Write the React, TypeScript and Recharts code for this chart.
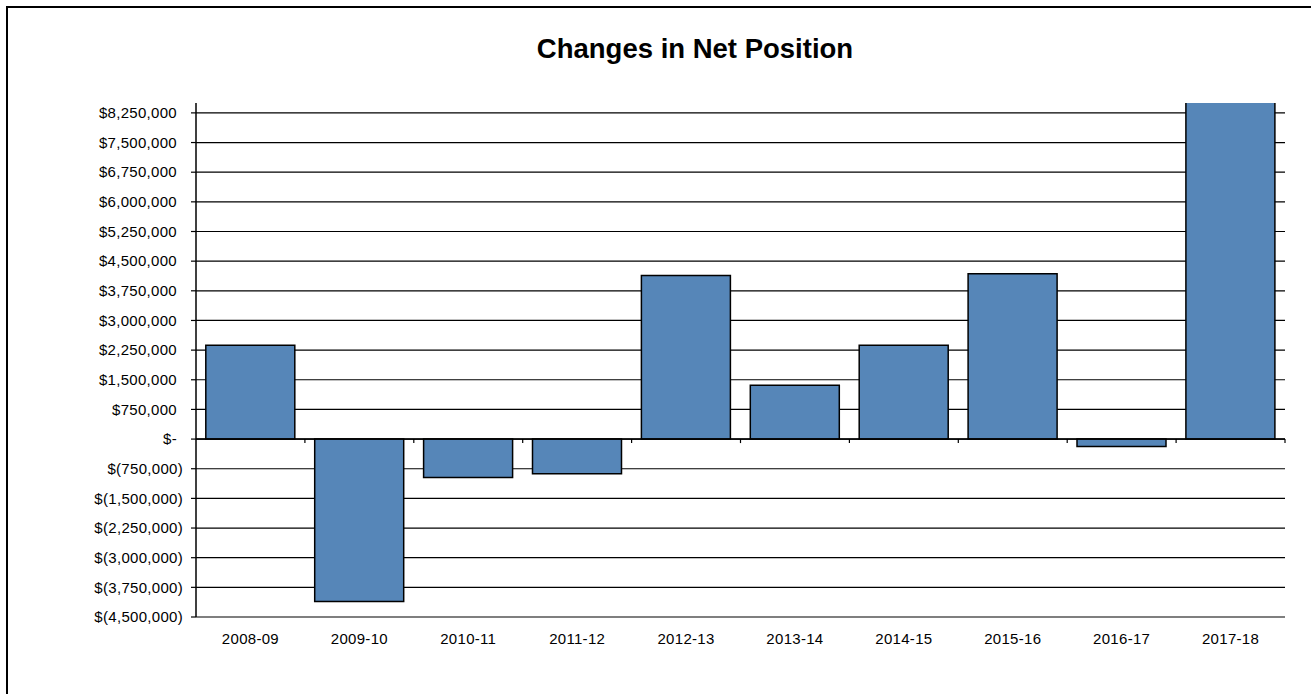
import { BarChart, Bar, XAxis, YAxis, CartesianGrid, ReferenceLine } from 'recharts';

const categories = ['2008-09', '2009-10', '2010-11', '2011-12', '2012-13', '2013-14', '2014-15', '2015-16', '2016-17', '2017-18'];
const netChange = [2370000, -4110000, -970000, -880000, 4140000, 1360000, 2370000, 4180000, -185000, 9200000];
const yTicks = [
  -4500000, -3750000, -3000000, -2250000, -1500000, -750000, 0, 750000, 1500000,
  2250000, 3000000, 3750000, 4500000, 5250000, 6000000, 6750000, 7500000, 8250000,
];

const data = categories.map((year, i) => ({ year, value: netChange[i] }));

const FONT = '"Liberation Sans", Arial, sans-serif';

const money = (v: number) => {
  if (v === 0) return '$-';
  if (v < 0) return `$(${Math.abs(v).toLocaleString('en-US')})`;
  return `$${v.toLocaleString('en-US')}`;
};

// accounting format: positives leave room for the closing paren
const YTick = ({ x, y, payload }: any) => {
  const v = payload.value as number;
  return (
    <text
      x={x + (v < 0 ? 6 : 0)}
      y={y}
      dy="0.35em"
      textAnchor="end"
      fontSize={15}
      letterSpacing={0.3}
      fontFamily={FONT}
      fill="#000"
    >
      {money(v)}
    </text>
  );
};

// zero line with small ticks between categories
const ZeroLine = (p: any) => {
  const { x1, x2, y1 } = p;
  const step = (x2 - x1) / categories.length;
  return (
    <g>
      <line x1={x1} x2={x2} y1={y1} y2={y1} stroke="#000" strokeWidth={1.5} />
      {categories.map((_, i) => (
        <line key={i} x1={x1 + step * (i + 1)} x2={x1 + step * (i + 1)} y1={y1} y2={y1 + 4} stroke="#000" strokeWidth={1.2} />
      ))}
    </g>
  );
};

// skip the grid line at the clipped top edge of the plot
const GridRow = (p: any) => {
  if (Math.abs(p.y1 - p.y) < 1) return <g key={p.key} />;
  return <line key={p.key} x1={p.x1} x2={p.x2} y1={p.y1} y2={p.y2} stroke="#000" strokeWidth={1.2} />;
};

export default function App() {
  return (
    <div style={{ position: 'absolute', left: 0, top: 0, width: 1311, height: 694, overflow: 'hidden', background: '#fff' }}>
      <div
        style={{
          position: 'absolute',
          left: 6,
          top: 6,
          width: 1400,
          height: 800,
          borderTop: '2px solid #000',
          borderLeft: '2px solid #000',
        }}
      />
      <div
        style={{
          position: 'absolute',
          left: 0,
          top: 35,
          width: 1390,
          textAlign: 'center',
          fontFamily: FONT,
          fontWeight: 700,
          fontSize: 27.5,
          lineHeight: '27.5px',
          color: '#000',
        }}
      >
        Changes in Net Position
      </div>
      <div style={{ position: 'absolute', left: 0, top: 0 }}>
        <BarChart
          width={1311}
          height={694}
          data={data}
          margin={{ top: 103, right: 26, bottom: 47, left: 100 }}
          barCategoryGap="9%"
        >
          <CartesianGrid vertical={false} stroke="#000" strokeWidth={1.2} horizontal={GridRow} />
          <XAxis
            dataKey="year"
            axisLine={false}
            tickLine={false}
            height={30}
            tickMargin={10}
            tick={{ fontSize: 15, fill: '#000', fontFamily: FONT, letterSpacing: 0.3 }}
            interval={0}
          />
          <YAxis
            type="number"
            domain={[-4500000, 8500000]}
            ticks={yTicks}
            allowDataOverflow
            interval={0}
            width={96}
            axisLine={{ stroke: '#000', strokeWidth: 1.5 }}
            tickLine={{ stroke: '#000', strokeWidth: 1.2 }}
            tickSize={5}
            tickMargin={14}
            tick={<YTick />}
          />
          <Bar dataKey="value" fill="#5686B8" stroke="#000" strokeWidth={1.5} isAnimationActive={false} />
          <ReferenceLine y={0} shape={<ZeroLine />} />
        </BarChart>
      </div>
    </div>
  );
}
